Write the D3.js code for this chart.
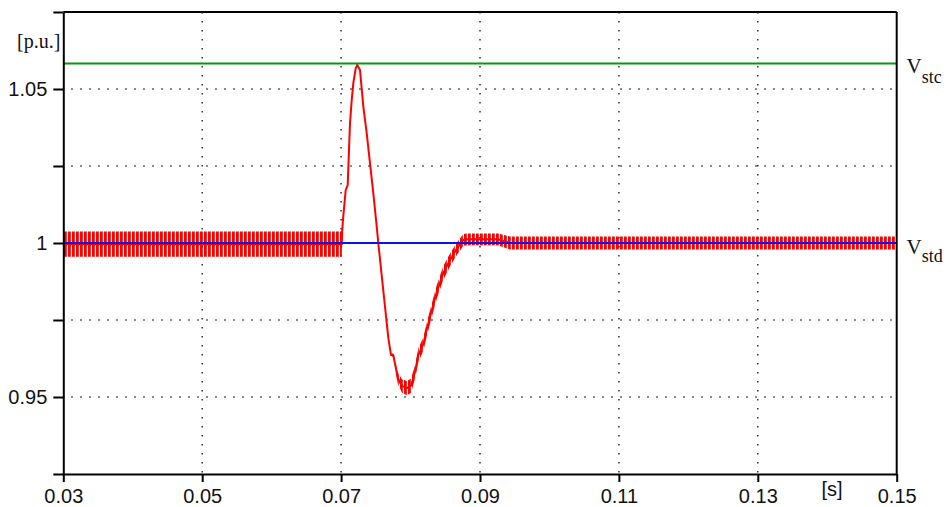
<!DOCTYPE html>
<html>
<head>
<meta charset="utf-8">
<script src="https://cdn.jsdelivr.net/npm/d3@7"></script>
<style>
  html, body { margin: 0; padding: 0; background: #fff; }
  svg { display: block; }
</style>
</head>
<body>
<svg id="chart" width="947" height="507"></svg>
<script>
// ---------------- data ----------------
const xDomain = [0.03, 0.15];
const yDomain = [0.925, 1.075];
const xTicks = [0.03, 0.05, 0.07, 0.09, 0.11, 0.13, 0.15];
const xTickLabels = ["0.03", "0.05", "0.07", "0.09", "0.11", "0.13", "0.15"];
const yTicks = [0.925, 0.95, 0.975, 1.0, 1.025, 1.05, 1.075];
const yTickLabels = ["", "0.95", "", "1", "", "1.05", ""];
const yGrid = [0.95, 0.975, 1.0, 1.025, 1.05];
const xGrid = [0.05, 0.07, 0.09, 0.11, 0.13];

// reference levels
const vStc = 1.0583;
const vStd = 1.0;

// measured voltage: sample times [s], mean value [p.u.], ripple half-amplitude [p.u.]
const tSamples = [0.0300, 0.0701, 0.07015, 0.07027, 0.07066, 0.07095, 0.07128, 0.07153, 0.07176, 0.07210,
  0.07233, 0.07272, 0.07320, 0.07369, 0.07416, 0.07464, 0.07513, 0.07536, 0.07622, 0.07680,
  0.07719, 0.07752, 0.07786, 0.07815, 0.07877, 0.07945, 0.08006, 0.08064, 0.08112, 0.08184,
  0.08233, 0.08280, 0.08377, 0.08472, 0.08568, 0.08665, 0.08760, 0.08809, 0.09259, 0.09432, 0.1500];
const vMean = [0.9996, 0.9996, 1.0036, 1.0075, 1.0172, 1.0188, 1.0389, 1.0464, 1.0519, 1.0567,
  1.0578, 1.0562, 1.0443, 1.0356, 1.0259, 1.0161, 1.0053, 0.9999, 0.9815, 0.9691,
  0.9636, 0.9636, 0.9597, 0.9562, 0.9536, 0.9529, 0.9536, 0.9581, 0.9636, 0.9672,
  0.9718, 0.9760, 0.9841, 0.9903, 0.9945, 0.9981, 1.0010, 1.0012, 1.0012, 1.0000, 1.0000];
const vRipple = [0.0041, 0.0041, 0, 0, 0, 0, 0, 0, 0, 0,
  0, 0, 0, 0, 0, 0, 0, 0, 0, 0,
  0.0004, 0.0006, 0.0012, 0.0018, 0.0022, 0.0023, 0.0023, 0.0022, 0.0022, 0.0022,
  0.0022, 0.0022, 0.0022, 0.0022, 0.0021, 0.0020, 0.0019, 0.0019, 0.0019, 0.0021, 0.0021];

// ---------------- layout ----------------
const svg = d3.select("#chart");
const L = 63.3, R = 896.7, T = 12, B = 474;
const x = d3.scaleLinear().domain(xDomain).range([L, R]);
const y = d3.scaleLinear().domain(yDomain).range([B, T]);

const sans = "'Liberation Sans', Arial, Helvetica, sans-serif";
const serif = "'Liberation Serif', 'Times New Roman', Times, serif";

// stripe pattern for switching ripple
const defs = svg.append("defs");
const pat = defs.append("pattern")
  .attr("id", "ripple").attr("patternUnits", "userSpaceOnUse")
  .attr("width", 4).attr("height", 40);
pat.append("rect").attr("x", 0).attr("y", 0).attr("width", 2.8).attr("height", 40).attr("fill", "#ff0000");

// grid
const grid = svg.append("g").attr("class", "grid")
  .attr("stroke", "#222").attr("stroke-width", 1.4).attr("stroke-dasharray", "1.4,7.6");
grid.selectAll("line.h").data(yGrid).join("line").attr("class", "h")
  .attr("x1", L + 8).attr("x2", R).attr("y1", d => y(d)).attr("y2", d => y(d));
grid.selectAll("line.v").data(xGrid).join("line").attr("class", "v")
  .attr("y1", T).attr("y2", B).attr("x1", d => x(d)).attr("x2", d => x(d));

// data series
const rows = tSamples.map((t, i) => ({ t, m: vMean[i], r: vRipple[i] }));
const band = d3.area().x(d => x(d.t)).y0(d => y(d.m - d.r)).y1(d => y(d.m + d.r));
svg.append("path").datum(rows).attr("d", band).attr("fill", "url(#ripple)");
svg.append("path").datum(rows)
  .attr("d", d3.line().x(d => x(d.t)).y(d => y(d.m)))
  .attr("fill", "none").attr("stroke", "#ff0000").attr("stroke-width", 2)
  .attr("stroke-linejoin", "round");

svg.append("line").attr("x1", x(xDomain[0])).attr("x2", x(xDomain[1]))
  .attr("y1", y(vStd)).attr("y2", y(vStd))
  .attr("stroke", "#1010ee").attr("stroke-width", 2);
svg.append("line").attr("x1", x(xDomain[0])).attr("x2", x(xDomain[1]))
  .attr("y1", y(vStc)).attr("y2", y(vStc))
  .attr("stroke", "#0a960a").attr("stroke-width", 2);

// axes
const xAxis = d3.axisBottom(x).tickValues(xTicks).tickSize(8).tickSizeOuter(0)
  .tickPadding(7).tickFormat((d, i) => xTickLabels[i]);
const gx = svg.append("g").attr("transform", `translate(0,${B})`).call(xAxis);
gx.select(".domain").attr("stroke", "#000").attr("stroke-width", 2);
gx.selectAll(".tick line").attr("stroke", "#000").attr("stroke-width", 2);
gx.selectAll(".tick text").attr("font-family", sans).attr("font-size", 20).attr("fill", "#111");

const yAxis = d3.axisLeft(y).tickValues(yTicks).tickSize(10).tickSizeOuter(0)
  .tickPadding(6).tickFormat((d, i) => yTickLabels[i]);
const gy = svg.append("g").attr("transform", `translate(${L},0)`).call(yAxis);
gy.select(".domain").attr("stroke", "#000").attr("stroke-width", 2);
gy.selectAll(".tick line").attr("stroke", "#000").attr("stroke-width", 2);
gy.selectAll(".tick text").attr("font-family", sans).attr("font-size", 20).attr("fill", "#111");

// frame (top and right)
svg.append("line").attr("x1", L).attr("x2", R).attr("y1", T).attr("y2", T)
  .attr("stroke", "#000").attr("stroke-width", 2);
svg.append("line").attr("x1", R).attr("x2", R).attr("y1", T).attr("y2", B)
  .attr("stroke", "#000").attr("stroke-width", 2);

// labels
svg.append("text").attr("x", 17).attr("y", 48)
  .attr("font-family", serif).attr("font-size", 20).attr("fill", "#111").text("[p.u.]");
svg.append("text").attr("x", 821.5).attr("y", 496)
  .attr("font-family", sans).attr("font-size", 20).attr("fill", "#111").text("[s]");

function vLabel(yBase, sub, dy) {
  const t = svg.append("text").attr("x", 906.5).attr("y", yBase)
    .attr("font-family", serif).attr("font-size", 21).attr("fill", "#111");
  t.append("tspan").text("V");
  t.append("tspan").attr("dy", dy).attr("font-size", 18).text(sub);
}
vLabel(y(vStc) + 10, "stc", 10);
vLabel(y(vStd) + 10.5, "std", 8.5);
</script>
</body>
</html>
